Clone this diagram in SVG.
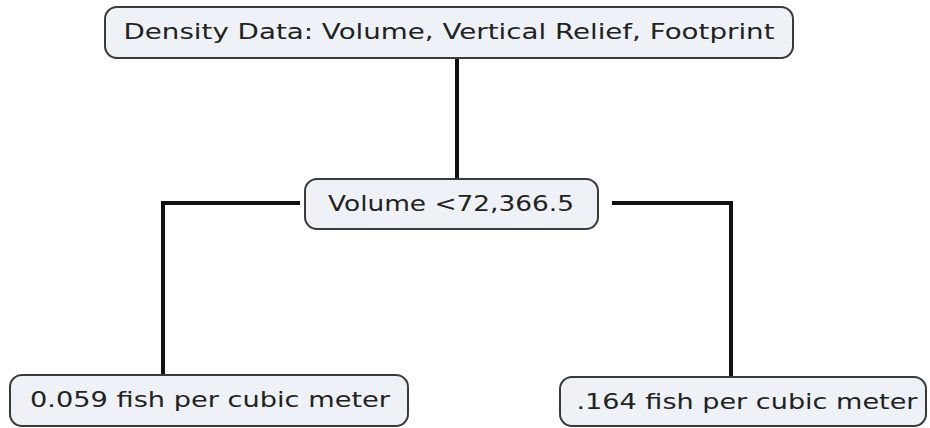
<svg xmlns="http://www.w3.org/2000/svg" width="930" height="428" viewBox="0 0 930 428">
<style>
.box{fill:#eef2f7;stroke:#3a3a3a;stroke-width:2}
.t{font-family:"DejaVu Sans",Verdana,sans-serif;font-size:21px;fill:#222;text-anchor:middle}
.c{fill:none;stroke:#111;stroke-width:4}
</style>
<rect width="930" height="428" fill="#fff"/>
<g id="connectors">
<line class="c" x1="457" y1="58" x2="457" y2="180"/>
<polyline class="c" points="300,203 163,203 163,376"/>
<polyline class="c" points="612,203 731,203 731,378"/>
</g>
<g id="root">
<rect class="box" x="105" y="7" width="688" height="51" rx="12"/>
<text class="t" x="449" y="39" textLength="651" lengthAdjust="spacingAndGlyphs">Density Data: Volume, Vertical Relief, Footprint</text>
</g>
<g id="split">
<rect class="box" x="305" y="179" width="293" height="50" rx="12"/>
<text class="t" x="451" y="211" textLength="246" lengthAdjust="spacingAndGlyphs">Volume &lt;72,366.5</text>
</g>
<g id="left">
<rect class="box" x="10" y="375" width="398" height="51" rx="12"/>
<text class="t" x="210" y="407" textLength="360" lengthAdjust="spacingAndGlyphs">0.059 fish per cubic meter</text>
</g>
<g id="right">
<rect class="box" x="560" y="377" width="366" height="49" rx="12"/>
<text class="t" x="747" y="409" textLength="341" lengthAdjust="spacingAndGlyphs">.164 fish per cubic meter</text>
</g>
</svg>
